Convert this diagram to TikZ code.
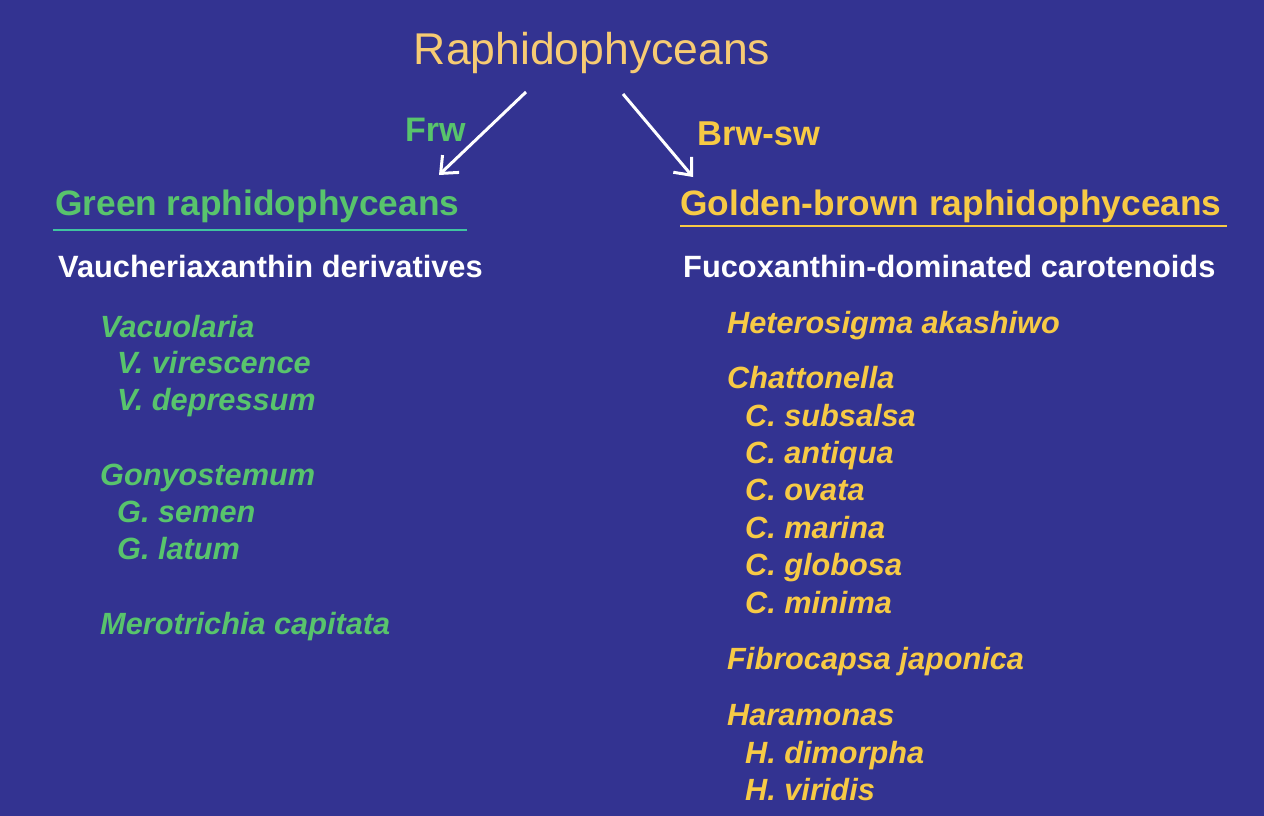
\documentclass[tikz,border=0pt]{standalone}
\usepackage{fontspec}
\setmainfont{Liberation Sans}
\usetikzlibrary{arrows.meta}

\definecolor{slidebg}{HTML}{333391}
\definecolor{titlegold}{HTML}{F7CB73}
\definecolor{algagreen}{HTML}{58C46C}
\definecolor{lineteal}{HTML}{40C4A0}
\definecolor{algagold}{HTML}{F7CA45}

\tikzset{
  txt/.style={inner sep=0pt, anchor=base west},
  head/.style={txt, font=\fontsize{35.3}{40}\selectfont\bfseries},
  sub/.style={txt, font=\fontsize{30.8}{36}\selectfont\bfseries, white},
  sp/.style={txt, font=\fontsize{30.7}{36}\selectfont\bfseries\itshape},
  arr/.style={white, line width=3pt, -{Straight Barb[length=14pt,width=24pt]}},
}

\begin{document}
\begin{tikzpicture}[x=1pt, y=-1pt]
    \fill[slidebg] (0,0) rectangle (1264,816);
    \useasboundingbox (0,0) rectangle (1264,816);

    \node[inner sep=0pt, anchor=base, titlegold, font=\fontsize{44.5}{50}\selectfont] (title) at (592,65) {Raphidophyceans};

    \coordinate (lstart) at (526,92);
    \coordinate (lend) at (439,175);
    \coordinate (rstart) at (623,94);
    \coordinate (rend) at (693,177);
    \draw[arr] (lstart) -- (lend);
    \draw[arr] (rstart) -- (rend);

    \node[head, algagreen, font=\fontsize{34}{40}\selectfont\bfseries] (frw) at (405,141) {Frw};
    \node[head, algagold, font=\fontsize{34.5}{40}\selectfont\bfseries] (brw) at (697,145) {Brw-sw};

    % the two groups
    \node[head, algagreen] (green) at (55,215) {Green raphidophyceans};
    \node[head, algagold] (golden) at (680,215) {Golden-brown raphidophyceans};
    \draw[lineteal, line width=2pt] (53,230) -- (467,230);
    \draw[algagold, line width=2pt] (680,226) -- (1227,226);

    \node[sub] (vau) at (58,277) {Vaucheriaxanthin derivatives};
    \node[sub] (fuc) at (683,277) {Fucoxanthin-dominated carotenoids};

    % green species
    \node[sp, algagreen] (vac) at (100,337) {Vacuolaria};
    \node[sp, algagreen] (vvir) at (117,373) {V. virescence};
    \node[sp, algagreen] (vdep) at (117,410) {V. depressum};
    \node[sp, algagreen] (gon) at (100,485) {Gonyostemum};
    \node[sp, algagreen] (gsem) at (117,522) {G. semen};
    \node[sp, algagreen] (glat) at (117,559) {G. latum};
    \node[sp, algagreen] (mer) at (100,634) {Merotrichia capitata};

    % golden-brown species
    \node[sp, algagold] (het) at (727,333) {Heterosigma akashiwo};
    \node[sp, algagold] (cha) at (727,388) {Chattonella};
    \node[sp, algagold] (csub) at (745,426) {C. subsalsa};
    \node[sp, algagold] (cant) at (745,463) {C. antiqua};
    \node[sp, algagold] (cova) at (745,500) {C. ovata};
    \node[sp, algagold] (cmar) at (745,538) {C. marina};
    \node[sp, algagold] (cglo) at (745,575) {C. globosa};
    \node[sp, algagold] (cmin) at (745,613) {C. minima};
    \node[sp, algagold] (fib) at (727,669) {Fibrocapsa japonica};
    \node[sp, algagold] (har) at (727,725) {Haramonas};
    \node[sp, algagold] (hdim) at (745,763) {H. dimorpha};
    \node[sp, algagold] (hvir) at (745,800) {H. viridis};

\end{tikzpicture}
\end{document}
